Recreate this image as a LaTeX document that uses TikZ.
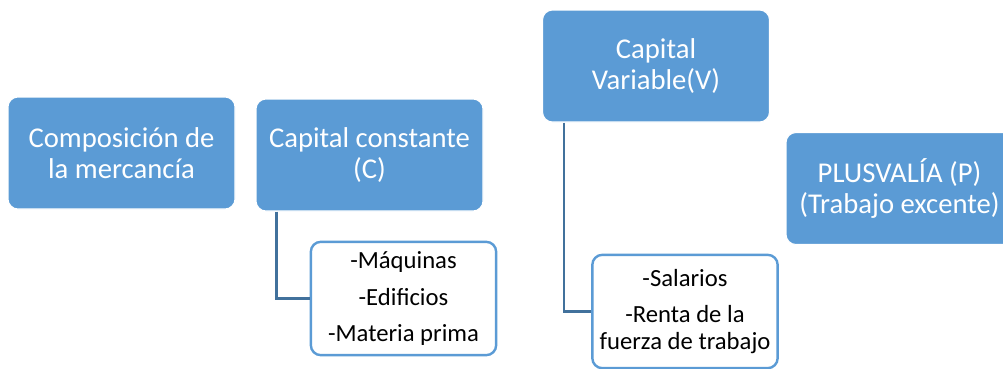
\documentclass[tikz,border=0pt]{standalone}
\usepackage{fontspec}
\setmainfont{Carlito}
\definecolor{boxblue}{HTML}{5B9BD5}
\definecolor{lineblue}{HTML}{41719C}
\tikzset{
  mainbox/.style={fill=boxblue, draw=white, line width=0.8pt, rounded corners=7.5pt, text=white, align=center,
    minimum width=170.25pt, minimum height=84pt, inner sep=0pt,
    font=\fontsize{21.5}{23.5}\selectfont},
  subbox/.style={fill=white, draw=boxblue, line width=1.8pt, rounded corners=7.5pt, text=black, align=center,
    minimum width=139pt, minimum height=85pt, inner sep=0pt,
    font=\fontsize{18.5}{20.3}\selectfont},
  link/.style={draw=lineblue, line width=1.6pt}
}
\begin{document}
\begin{tikzpicture}[x=0.75pt, y=-0.75pt]
\useasboundingbox (0,0) rectangle (1003,368);
\clip (0,0) rectangle (1003,368);
\node[mainbox] (comp) at (121.5,153) {Composición de\\la mercancía};
\node[mainbox] (cc) at (369.5,155) {Capital constante\\(C)};
\node[mainbox] (cv) at (656,66) {Capital\\Variable(V)};
\node[mainbox] (plus) at (899.5,188.5) {PLUSVALÍA (P)\\(Trabajo excente)};
\node[subbox] (cclist) at (403.5,298.5) {-Máquinas\\[7.3pt]-Edificios\\[7.3pt]-Materia prima};
\node[subbox] (cvlist) at (685,311.5) {-Salarios\\[6.7pt]-Renta de la\\fuerza de trabajo};
\draw[link] ([xshift=15.75pt]cc.south west) |- (cclist.west);
\draw[link] ([xshift=16.5pt]cv.south west) |- (cvlist.west);
\end{tikzpicture}
\end{document}
